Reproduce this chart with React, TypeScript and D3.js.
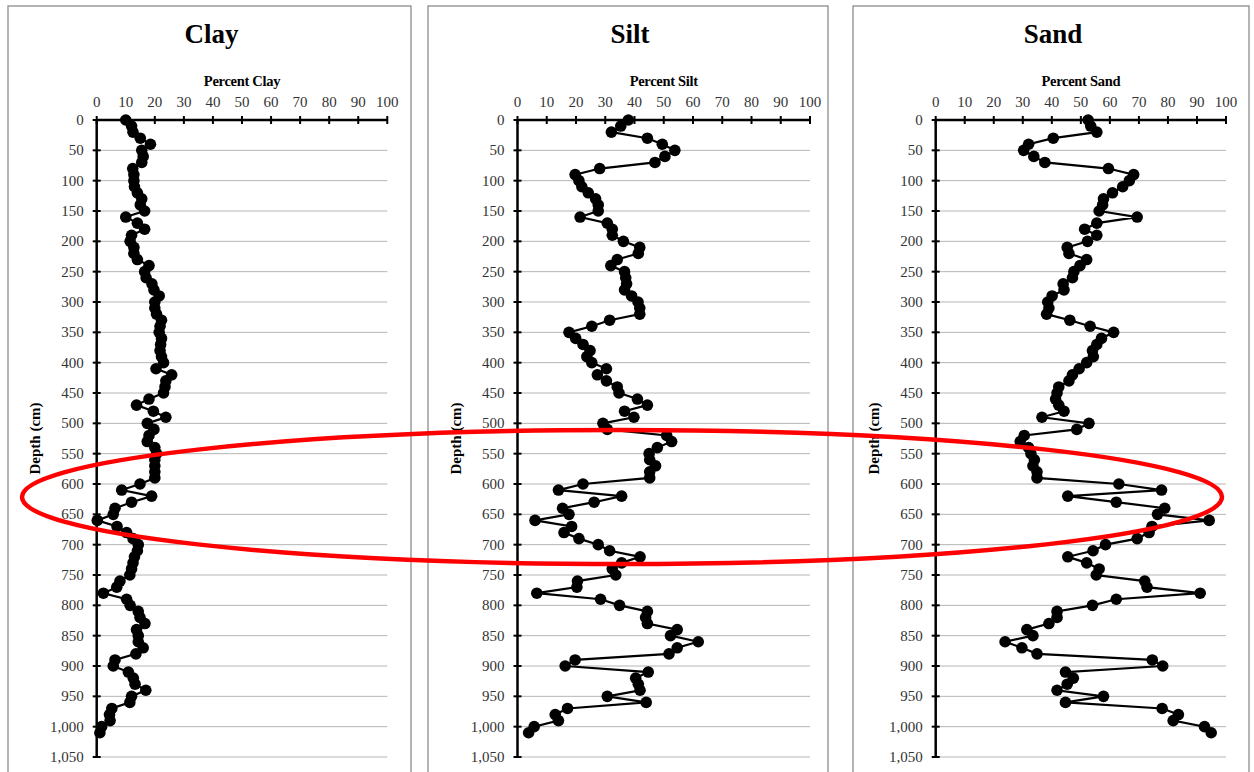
import React from "react";
import * as d3 from "d3";

const depths: number[] = d3.range(0, 1011, 10);

const clay: number[] = [
  10, 12, 12.5, 15, 18.5, 15.5, 16, 15.5, 12.4, 12.8,
  12.8, 13, 14, 15.5, 15, 16.5, 10, 14, 16.5, 12,
  11.5, 12.8, 12.8, 14, 18, 16.5, 17, 19, 19.7, 21.5,
  20, 20, 20.6, 22.3, 21.8, 21.5, 22.3, 22, 21.8, 22.3,
  23, 20.4, 25.8, 23.8, 23.5, 23, 18, 13.7, 19.5, 23.8,
  17.4, 19.7, 18, 17.4, 20, 20.6, 20, 20, 20, 20,
  14.9, 8.6, 18.9, 12, 6.3, 5.7, 0.2, 7, 10.3, 12.5,
  14.3, 14, 13, 12.5, 12, 11.4, 8, 6.9, 2.3, 10.3,
  11.5, 14.3, 14.9, 16.6, 13.7, 14.3, 14.3, 16, 13.5, 6.3,
  5.7, 10.9, 12.6, 13.2, 16.9, 12, 11.4, 5.2, 4.4, 4.6,
  1.7, 1.1,
];

const silt: number[] = [
  37.9, 35.3, 32.1, 44.4, 49.5, 53.8, 50.4, 47, 28.1, 19.7,
  21, 22, 24.2, 26.7, 27.6, 27.6, 21.4, 30.7, 32.4, 32.4,
  36.2, 41.8, 41.3, 34.1, 31.9, 36.6, 37, 37.3, 36.6, 39,
  41.2, 41.8, 41.8, 31.5, 25.4, 17.6, 19.9, 22.4, 24.8, 23.7,
  25.4, 30.4, 27.3, 30.4, 34.1, 34.7, 41, 44.4, 36.6, 39.8,
  29.2, 30.7, 51, 52.7, 47.8, 45, 45.2, 47.2, 45.2, 45.2,
  22.4, 14, 35.6, 26.2, 15.4, 17.6, 6, 18.5, 15.9, 21,
  27.6, 31.5, 41.9, 35.6, 32.4, 33.6, 20.5, 20.3, 6.6, 28.4,
  34.9, 44.4, 43.8, 44.4, 54.6, 52.3, 61.8, 54.6, 51.8, 19.7,
  16.3, 44.7, 40.4, 41.3, 41.9, 30.7, 44, 17.1, 12.9, 14,
  5.7, 3.8,
];

const sand: number[] = [
  52.5, 53.4, 55.5, 40.5, 32, 30.3, 33.8, 37.6, 59.5, 68.2,
  66.7, 64.4, 60.9, 57.8, 57.5, 56.3, 69.4, 55.5, 51.3, 55.5,
  52.3, 45.3, 45.9, 52, 49.7, 47.6, 47.1, 43.9, 44.2, 40.1,
  38.6, 39, 38.2, 46.2, 53.2, 61.3, 57.1, 55.5, 54, 54.3,
  52, 49.4, 47.1, 45.9, 42.4, 41.8, 41.3, 42.4, 44.2, 36.6,
  52.8, 48.6, 30.5, 29.1, 32, 32.8, 34, 33.5, 34.9, 34.9,
  63.1, 77.8, 45.5, 62.2, 78.9, 76.4, 94.2, 74.5, 73.5, 69.4,
  58.5, 54.2, 45.5, 52, 56.3, 55.3, 72, 72.8, 91.1, 62.2,
  54, 41.8, 41.8, 39, 31.4, 33.5, 23.9, 29.7, 34.9, 74.6,
  78.2, 44.7, 47.4, 45.3, 41.8, 57.8, 44.7, 78, 83.6, 81.8,
  92.6, 94.9,
];

const titles: string[] = ["Clay", "Silt", "Sand"];
const axisTitles: string[] = ["Percent Clay", "Percent Silt", "Percent Sand"];
const xTicks: number[] = d3.range(0, 101, 10);
const yTicks: number[] = d3.range(0, 1051, 50);
const yLabel = "Depth (cm)";

const series: number[][] = [clay, silt, sand];

// layout (pixels)
const panels = [
  { left: 8, right: 411, x0: 96.7, x1: 387.3 },
  { left: 428, right: 828, x0: 517.5, x1: 810 },
  { left: 853, right: 1249, x0: 935.7, x1: 1226 },
];
const Y0 = 120;
const Y1 = 757;
const FONT = "'Liberation Serif', 'Times New Roman', serif";
const fmt = d3.format(",");

function Panel({ idx }: { idx: number }) {
  const p = panels[idx];
  const x = d3.scaleLinear().domain([0, 100]).range([p.x0, p.x1]);
  const y = d3.scaleLinear().domain([0, 1050]).range([Y0, Y1]);
  const vals = series[idx];
  const pts: [number, number][] = vals.map((v, i) => [v, depths[i]]);
  const line = d3
    .line<[number, number]>()
    .x((d) => x(d[0]))
    .y((d) => y(d[1]));
  const cx = (p.left + p.right) / 2;
  const axisMid = (p.x0 + p.x1) / 2;
  return (
    <g>
      <rect
        x={p.left}
        y={6}
        width={p.right - p.left}
        height={800}
        fill="#fff"
        stroke="#8c8c8c"
        strokeWidth={1.3}
      />
      <text
        x={cx + 2}
        y={43}
        textAnchor="middle"
        fontFamily={FONT}
        fontWeight="bold"
        fontSize={27}
        fill="#000"
      >
        {titles[idx]}
      </text>
      <text
        x={axisMid}
        y={86}
        textAnchor="middle"
        fontFamily={FONT}
        fontWeight="bold"
        fontSize={14.5}
        fill="#000"
        letterSpacing={-0.3}
      >
        {axisTitles[idx]}
      </text>
      {yTicks.slice(1).map((t) => (
        <line
          key={"g" + t}
          x1={x(0)}
          x2={x(100)}
          y1={y(t)}
          y2={y(t)}
          stroke="#b5b5b5"
          strokeWidth={1}
        />
      ))}
      {xTicks.map((t) => (
        <g key={"xt" + t}>
          <line x1={x(t)} x2={x(t)} y1={y(0) - 4} y2={y(0) + 4} stroke="#000" strokeWidth={2} />
          <text
            x={x(t)}
            y={107}
            textAnchor="middle"
            fontFamily={FONT}
            fontSize={15}
            fill="#333"
          >
            {t}
          </text>
        </g>
      ))}
      {yTicks.map((t) => (
        <g key={"yt" + t}>
          <line x1={x(0) - 4} x2={x(0) + 4} y1={y(t)} y2={y(t)} stroke="#000" strokeWidth={2} />
          <text
            x={x(0) - 13}
            y={y(t)}
            dy="0.34em"
            textAnchor="end"
            fontFamily={FONT}
            fontSize={15}
            fill="#333"
          >
            {fmt(t)}
          </text>
        </g>
      ))}
      <line x1={x(0)} x2={x(100)} y1={y(0)} y2={y(0)} stroke="#000" strokeWidth={2.5} />
      <line x1={x(0)} x2={x(0)} y1={y(0)} y2={y(1050)} stroke="#000" strokeWidth={2.5} />
      <text
        transform={`translate(${x(0) - 57},${(y(0) + y(1050)) / 2}) rotate(-90)`}
        textAnchor="middle"
        fontFamily={FONT}
        fontWeight="bold"
        fontSize={15}
        fill="#000"
      >
        {yLabel}
      </text>
      <path d={line(pts) || ""} fill="none" stroke="#000" strokeWidth={2.2} />
      {pts.map((d, i) => (
        <circle key={"c" + i} cx={x(d[0])} cy={y(d[1])} r={5.8} fill="#000" />
      ))}
    </g>
  );
}

export default function App() {
  return (
    <div style={{ position: "absolute", left: 0, top: 0 }}>
      <svg width={1254} height={772} style={{ display: "block", background: "#fff" }}>
        <rect x={0} y={0} width={1254} height={772} fill="#fff" />
        {panels.map((_, i) => (
          <Panel key={i} idx={i} />
        ))}
        <ellipse
          cx={622}
          cy={497}
          rx={600}
          ry={67}
          fill="none"
          stroke="#ff0000"
          strokeWidth={4.5}
        />
      </svg>
    </div>
  );
}
